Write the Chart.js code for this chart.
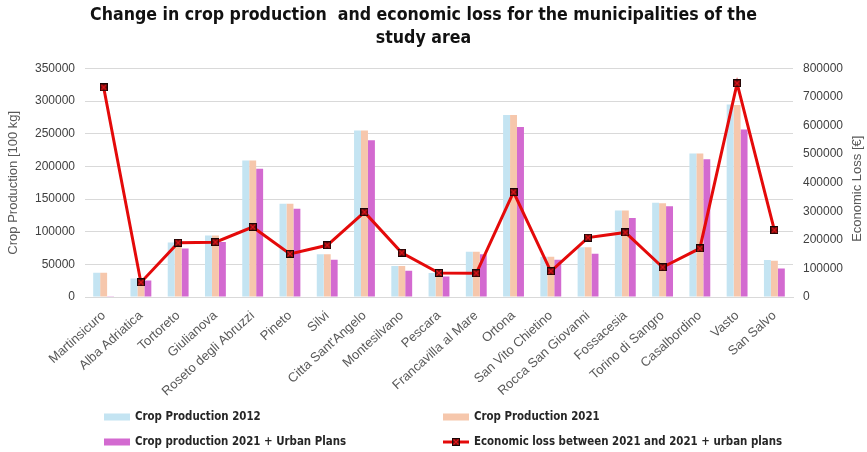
<!DOCTYPE html>
<html>
<head>
<meta charset="utf-8">
<script src="https://cdn.jsdelivr.net/npm/chart.js@4.4.1/dist/chart.umd.min.js"></script>
<style>
  html, body { margin: 0; padding: 0; background: #fff; }
</style>
</head>
<body>
<canvas id="cropChart" width="867" height="452"></canvas>
<script>
// Gemeinden (x-Achse)
const municipalities = [
  'Martinsicuro', 'Alba Adriatica', 'Tortoreto', 'Giulianova', 'Roseto degli Abruzzi',
  'Pineto', 'Silvi', "Citta Sant'Angelo", 'Montesilvano', 'Pescara',
  'Francavilla al Mare', 'Ortona', 'San Vito Chietino', 'Rocca San Giovanni', 'Fossacesia',
  'Torino di Sangro', 'Casalbordino', 'Vasto', 'San Salvo'
];

// Produktion [100 kg]
const production2012 = [37100, 28500, 83400, 94100, 209000, 143000, 65600, 254900, 47300, 36600,
  69200, 278800, 61600, 76300, 132300, 144500, 219800, 295000, 56500];
const production2021 = [37100, 28500, 83400, 94100, 209000, 143000, 65600, 254900, 47300, 36600,
  69200, 278800, 61600, 76300, 132300, 143500, 219800, 294000, 55400];
const production2021Urban = [1000, 25400, 74300, 84400, 196400, 135300, 57000, 240100, 40200, 31500,
  65600, 260400, 57000, 66100, 121100, 138900, 211100, 256400, 43700];

// Wirtschaftlicher Verlust [€]
const economicLoss = [734000, 51000, 190000, 192000, 245000, 151000, 181000, 297000, 155000, 84000,
  83000, 367000, 90000, 208000, 226000, 104000, 170000, 748000, 234000];

const chartTitle = ['Change in crop production  and economic loss for the municipalities of the', 'study area'];
const leftAxisTitle = 'Crop Production [100 kg]';
const rightAxisTitle = 'Economic Loss [€]';

const narrowFont = '"Liberation Sans Narrow", "DejaVu Sans Condensed", sans-serif';
const plainFont = '"Liberation Sans", Arial, sans-serif';

// Marker: dunkles Quadrat mit rotem Kreuz
function makeMarker() {
  const c = document.createElement('canvas');
  c.width = 8; c.height = 8;
  const g = c.getContext('2d');
  g.fillStyle = '#1a0606';
  g.fillRect(0, 0, 8, 8);
  g.fillStyle = '#6e0b0b';
  g.fillRect(1, 1, 6, 6);
  g.strokeStyle = '#e3161b';
  g.lineWidth = 1.1;
  g.beginPath();
  g.moveTo(1.5, 1.5); g.lineTo(6.5, 6.5);
  g.moveTo(6.5, 1.5); g.lineTo(1.5, 6.5);
  g.stroke();
  return c;
}
const marker = makeMarker();

// Legende unten in zwei Spalten
const bottomLegend = {
  id: 'bottomLegend',
  afterDraw(chart) {
    const ctx = chart.ctx;
    const cols = [104, 443];
    const rows = [417, 442];
    ctx.save();
    ctx.font = 'bold 11.4px ' + narrowFont;
    ctx.textBaseline = 'middle';
    chart.data.datasets.forEach((ds, i) => {
      const x = cols[i % 2];
      const y = rows[Math.floor(i / 2)];
      if (ds.type === 'line') {
        ctx.strokeStyle = ds.borderColor;
        ctx.lineWidth = 3;
        ctx.beginPath();
        ctx.moveTo(x, y);
        ctx.lineTo(x + 26, y);
        ctx.stroke();
        ctx.drawImage(marker, x + 9, y - 4);
      } else {
        ctx.fillStyle = ds.backgroundColor;
        ctx.fillRect(x, y - 3.5, 26, 7);
      }
      ctx.fillStyle = '#262626';
      ctx.fillText(ds.label, x + 31, y);
    });
    ctx.restore();
  }
};

// Titel der rechten Achse (von unten nach oben gelesen)
const rightTitle = {
  id: 'rightTitle',
  afterDraw(chart) {
    const ctx = chart.ctx;
    const area = chart.chartArea;
    ctx.save();
    ctx.translate(857, (area.top + area.bottom) / 2 + 6);
    ctx.rotate(-Math.PI / 2);
    ctx.font = '13px ' + plainFont;
    ctx.fillStyle = '#595959';
    ctx.textAlign = 'center';
    ctx.textBaseline = 'middle';
    ctx.fillText(rightAxisTitle, 0, 0);
    ctx.restore();
  }
};

const plainNumber = (v) => String(v);

const config = {
  data: {
    labels: municipalities,
    datasets: [
      {
        type: 'bar',
        label: 'Crop Production 2012',
        data: production2012,
        backgroundColor: 'rgb(196, 228, 242)',
        yAxisID: 'y',
        order: 2,
        barPercentage: 1,
        categoryPercentage: 0.56
      },
      {
        type: 'bar',
        label: 'Crop Production 2021',
        data: production2021,
        backgroundColor: 'rgb(246, 199, 172)',
        yAxisID: 'y',
        order: 2,
        barPercentage: 1,
        categoryPercentage: 0.56
      },
      {
        type: 'bar',
        label: 'Crop production 2021 + Urban Plans',
        data: production2021Urban,
        backgroundColor: 'rgb(211, 106, 208)',
        yAxisID: 'y',
        order: 2,
        barPercentage: 1,
        categoryPercentage: 0.56
      },
      {
        type: 'line',
        label: 'Economic loss between 2021 and 2021 + urban plans',
        data: economicLoss,
        borderColor: 'rgb(228, 10, 10)',
        borderWidth: 3,
        pointStyle: marker,
        pointRadius: 4,
        yAxisID: 'y1',
        order: 1,
        tension: 0
      }
    ]
  },
  options: {
    responsive: false,
    animation: false,
    layout: { padding: { left: 0, right: 20, top: 0, bottom: 55 } },
    plugins: {
      legend: { display: false },
      tooltip: { enabled: false },
      title: {
        display: true,
        text: chartTitle,
        color: '#111',
        font: { family: narrowFont, size: 17.6, weight: 'bold', lineHeight: 1.32 },
        padding: { top: 4, bottom: 18 }
      }
    },
    scales: {
      x: {
        grid: { display: false },
        border: { color: '#d9d9d9' },
        ticks: {
          autoSkip: false,
          minRotation: 42,
          maxRotation: 42,
          color: '#595959',
          font: { family: plainFont, size: 13 }
        },
        afterFit: (scale) => { scale.height = 100; }
      },
      y: {
        position: 'left',
        min: 0,
        max: 350000,
        grid: { color: '#d9d9d9', drawTicks: false },
        border: { display: false },
        ticks: {
          stepSize: 50000,
          padding: 10,
          color: '#404040',
          font: { family: plainFont, size: 12 },
          callback: plainNumber
        },
        title: {
          display: true,
          text: leftAxisTitle,
          color: '#595959',
          font: { family: plainFont, size: 13 },
          padding: { top: 6, bottom: 0 }
        },
        afterFit: (scale) => { scale.width = 85; }
      },
      y1: {
        position: 'right',
        min: 0,
        max: 800000,
        grid: { drawOnChartArea: false, drawTicks: false },
        border: { display: false },
        ticks: {
          stepSize: 100000,
          padding: 10,
          color: '#404040',
          font: { family: plainFont, size: 12 },
          callback: plainNumber
        },
        afterFit: (scale) => { scale.width = 54; }
      }
    }
  },
  plugins: [bottomLegend, rightTitle]
};

new Chart(document.getElementById('cropChart'), config);
</script>
</body>
</html>
